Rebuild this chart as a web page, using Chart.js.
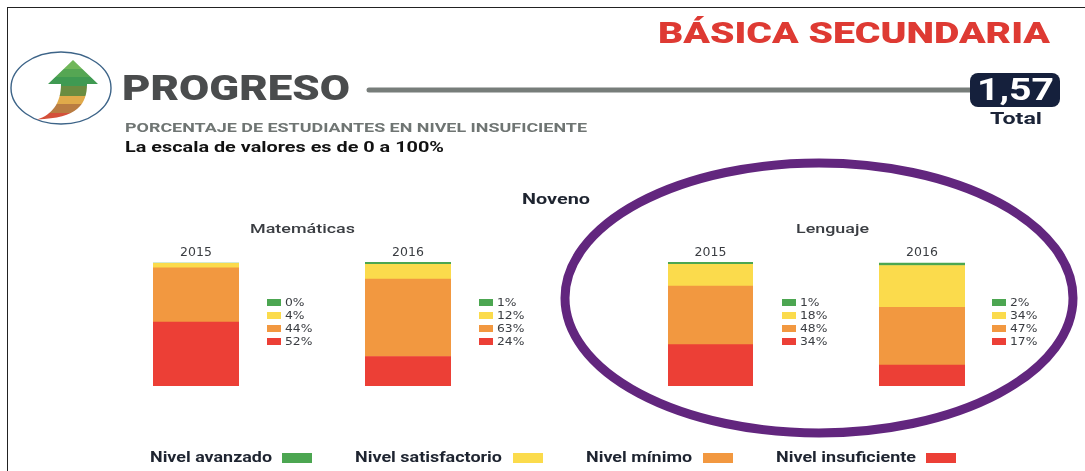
<!DOCTYPE html>
<html lang="es"><head><meta charset="utf-8">
<script src="https://cdn.jsdelivr.net/npm/chart.js@4"></script>
<style>
html,body{margin:0;padding:0;background:#fff;width:1085px;height:471px;overflow:hidden}
#page{position:absolute;left:0;top:0;width:1085px;height:471px;filter:blur(.45px)}
#frame{position:absolute;left:7px;top:7px;width:1078px;height:464px;border-left:1.5px solid #222;border-top:1.5px solid #222;box-sizing:border-box}
.t{position:absolute;white-space:nowrap;font-family:Roboto,sans-serif;font-weight:700;line-height:1;transform-origin:left center}
.s{position:absolute}
canvas{position:absolute}
svg{position:absolute;left:0;top:0}
</style></head><body><div id="page">
<div id="frame"></div>
<svg width="1085" height="471">
 <defs><clipPath id="arrow"><path d="M73 60 L98 84 L87 84 C87 104 78 118 37 119.5 C52 115 61 103 61 84 L48 84 Z"/></clipPath></defs>
 <ellipse cx="61" cy="88" rx="50" ry="36" fill="none" stroke="#3D6488" stroke-width="1.4"/>
 <g clip-path="url(#arrow)">
  <rect x="30" y="60" width="70" height="9" fill="#71B75A"/><rect x="30" y="69" width="70" height="8" fill="#55A653"/>
  <rect x="30" y="77" width="70" height="9" fill="#3F9A52"/><rect x="30" y="86" width="70" height="10" fill="#6A8C40"/>
  <rect x="30" y="96" width="70" height="8" fill="#E0AA4A"/><rect x="30" y="104" width="70" height="9" fill="#B97C42"/>
  <rect x="30" y="113" width="70" height="8" fill="#D4503A"/>
 </g>
 <line x1="369" y1="90" x2="975" y2="90" stroke="#777D7A" stroke-width="5" stroke-linecap="round"/>
 <rect x="970" y="73" width="90" height="34" rx="8" fill="#15203C"/>
 <ellipse cx="819" cy="298" rx="254" ry="135" fill="none" stroke="#62267E" stroke-width="9"/>
</svg>
<div id="texts"></div>
<canvas id="c0" width="86" height="143" style="left:153px;top:243px"></canvas>
<canvas id="c1" width="86" height="143" style="left:365px;top:243px"></canvas>
<canvas id="c2" width="85" height="143" style="left:668px;top:243px"></canvas>
<canvas id="c3" width="86" height="143" style="left:879px;top:243px"></canvas>
<div id="legends"></div>
</div>
<script>
const years = ['2015', '2016', '2015', '2016'];
const avanzado = [0, 1, 1, 2];
const satisfactorio = [4, 12, 18, 34];
const minimo = [44, 63, 48, 47];
const insuficiente = [52, 24, 34, 17];
const levelNames = ['Nivel avanzado', 'Nivel satisfactorio', 'Nivel mínimo', 'Nivel insuficiente'];
const levelColors = ['#4CA651', '#FBDB4C', '#F29840', '#EC3F36'];

const textItems = [
 ['BÁSICA SECUNDARIA', 658, 32.5, 392, 30, '#DE3A33', 900],
 ['PROGRESO', 122, 88, 228, 35, '#4A4C4D', 900],
 ['1,57', 977, 89, 77, 31, '#FFFFFF', 700],
 ['Total', 990, 118.5, 52, 17, '#1B2438', 700],
 ['PORCENTAJE DE ESTUDIANTES EN NIVEL INSUFICIENTE', 125, 127, 462, 13, '#6F7573', 700],
 ['La escala de valores es de 0 a 100%', 125, 147, 319, 14, '#111111', 700],
 ['Noveno', 522, 199, 68, 15, '#1E2430', 700],
 ['Matemáticas', 250, 228, 105, 13, '#3A3D42', 500],
 ['Lenguaje', 796, 228, 73, 13, '#3A3D42', 500],
 ['Nivel avanzado', 150, 457, 122, 14, '#1E2430', 700],
 ['Nivel satisfactorio', 355, 457, 147, 14, '#1E2430', 700],
 ['Nivel mínimo', 586, 457, 106, 14, '#1E2430', 700],
 ['Nivel insuficiente', 776, 457, 140, 14, '#1E2430', 700]
];
const holder = document.getElementById('texts');
function addText(str, x, cy, w, size, color, weight, parent, family, stretch) {
  const d = document.createElement('div');
  d.className = 't';
  d.textContent = str;
  d.style.cssText = `left:${x}px;top:${cy - size / 2}px;font-size:${size}px;color:${color};font-weight:${weight}`;
  if (family) d.style.fontFamily = family;
  parent.appendChild(d);
  if (w) d.style.transform = `scaleX(${w / d.getBoundingClientRect().width})`;
  else if (stretch) d.style.transform = `scaleX(${stretch})`;
}
textItems.forEach(i => addText(i[0], i[1], i[2], i[3], i[4], i[5], i[6], holder));

// bottom legend swatches
const swatchX = [282, 513, 703, 926];
const legends = document.getElementById('legends');
function swatch(x, y, w, h, color) {
  const s = document.createElement('div');
  s.className = 's';
  s.style.cssText = `left:${x}px;top:${y}px;width:${w}px;height:${h}px;background:${color}`;
  legends.appendChild(s);
}
levelColors.forEach((c, i) => swatch(swatchX[i], 453, 30, 10, c));

// per-panel value keys
const keyX = [267, 479, 782, 992];
const keyY = [302, 315, 328, 341];
years.forEach((y, p) => {
  [avanzado[p], satisfactorio[p], minimo[p], insuficiente[p]].forEach((v, r) => {
    swatch(keyX[p], keyY[r] - 3, 14, 6.5, levelColors[r]);
    addText(v + '%', keyX[p] + 18, keyY[r] + .5, 0, 11, '#3A3D42', 400, legends, '"DejaVu Sans"', 1.12);
  });
});

years.forEach((y, p) => {
  const vals = [insuficiente[p], minimo[p], satisfactorio[p], avanzado[p]];
  new Chart(document.getElementById('c' + p), {
    type: 'bar',
    data: {
      labels: [y],
      datasets: [
        {label: levelNames[3], data: [insuficiente[p]], backgroundColor: levelColors[3]},
        {label: levelNames[2], data: [minimo[p]], backgroundColor: levelColors[2]},
        {label: levelNames[1], data: [satisfactorio[p]], backgroundColor: levelColors[1]},
        {label: levelNames[0], data: [avanzado[p]], backgroundColor: levelColors[0],
         minBarLength: avanzado[p] > 0 ? 2 : 0, clip: false}
      ]
    },
    options: {
      responsive: false, animation: false,
      layout: {padding: 0},
      datasets: {bar: {barPercentage: 1, categoryPercentage: 1, borderWidth: 0}},
      plugins: {
        legend: {display: false},
        tooltip: {enabled: false},
        title: {
          display: true, text: y, color: '#3A3D42',
          font: {family: '"DejaVu Sans"', size: 12.5, weight: 'normal', lineHeight: 1.2},
          padding: {top: 2, bottom: 3}
        }
      },
      scales: {
        x: {stacked: true, display: false},
        y: {stacked: true, display: false, min: 0, max: vals.reduce((a, b) => a + b, 0)}
      }
    }
  });
});
</script></body></html>
